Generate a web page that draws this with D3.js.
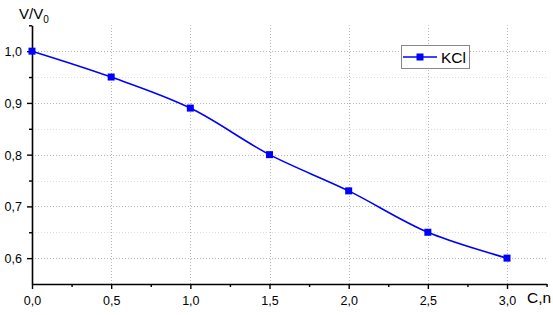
<!DOCTYPE html>
<html><head><meta charset="utf-8">
<script src="https://cdn.jsdelivr.net/npm/d3@7"></script>
<style>
body{margin:0;background:#fff;}
text{font-family:"Liberation Sans",Arial,sans-serif;fill:#000;}
</style></head>
<body><svg id="c" width="553" height="315"></svg>
<script>
const concentration = [0, 0.5, 1.0, 1.5, 2.0, 2.5, 3.0];
const ratioKCl = [1.0, 0.95, 0.89, 0.80, 0.73, 0.65, 0.60];
const seriesName = "KCl";
const xTicks = [0, 0.5, 1.0, 1.5, 2.0, 2.5, 3.0];
const yTicks = [0.6, 0.7, 0.8, 0.9, 1.0];
const xMinor = [0.25, 0.75, 1.25, 1.75, 2.25, 2.75, 3.25];
const yMinor = [0.65, 0.75, 0.85, 0.95, 1.05];

const svg = d3.select("#c");
const x = d3.scaleLinear().domain([0, 3.25]).range([32, 546.6]);
const y = d3.scaleLinear().domain([0.55, 1.05]).range([284, 25.3]);
const fmt = d => d.toFixed(1).replace(".", ",");

// minor horizontal grid
svg.append("g").selectAll("line").data(yMinor.filter(v => v < 1.05)).join("line")
  .attr("x1", x(0)).attr("x2", x(3.25)).attr("y1", d => Math.round(y(d)) + 0.5).attr("y2", d => Math.round(y(d)) + 0.5)
  .attr("stroke", "#dcdcdc").attr("stroke-width", 1).attr("stroke-dasharray", "1,2");
// major grid
svg.append("g").selectAll("line").data(yTicks).join("line")
  .attr("x1", x(0)).attr("x2", x(3.25)).attr("y1", d => Math.round(y(d)) + 0.5).attr("y2", d => Math.round(y(d)) + 0.5)
  .attr("stroke", "#b4b4b4").attr("stroke-width", 1).attr("stroke-dasharray", "1,2");
svg.append("g").selectAll("line").data(xTicks.filter(v => v > 0)).join("line")
  .attr("x1", d => Math.round(x(d)) + 0.5).attr("x2", d => Math.round(x(d)) + 0.5).attr("y1", y(0.55)).attr("y2", y(1.05))
  .attr("stroke", "#b4b4b4").attr("stroke-width", 1).attr("stroke-dasharray", "1,2");

// axes
const xAxis = d3.axisBottom(x).tickValues(xTicks).tickFormat(fmt).tickSize(5).tickSizeOuter(0).tickPadding(0);
const gx = svg.append("g").attr("transform", `translate(0,${y(0.55)})`).call(xAxis);
gx.selectAll(".tick text").style("font-size", "12.5px").attr("dy", null).attr("y", 21);
const xAxisMinor = d3.axisBottom(x).tickValues(xMinor).tickFormat("").tickSize(3).tickSizeOuter(0);
svg.append("g").attr("transform", `translate(0,${y(0.55)})`).call(xAxisMinor).select(".domain").remove();

const yAxis = d3.axisLeft(y).tickValues(yTicks).tickFormat(fmt).tickSize(5).tickSizeOuter(0);
const gy = svg.append("g").attr("transform", `translate(${x(0)},0)`).call(yAxis);
gy.selectAll(".tick text").style("font-size", "12.5px").attr("x", -10).attr("dy", null).attr("y", 4.5);
const yAxisMinor = d3.axisLeft(y).tickValues(yMinor).tickFormat("").tickSize(3).tickSizeOuter(0);
svg.append("g").attr("transform", `translate(${x(0)},0)`).call(yAxisMinor).select(".domain").remove();
svg.selectAll(".domain").attr("stroke", "#000").attr("stroke-width", 1.6);
svg.selectAll(".tick line").attr("stroke", "#000").attr("stroke-width", 1.4);

// axis titles
const yt = svg.append("text").attr("x", 19).attr("y", 19).style("font-size", "15px");
yt.append("tspan").text("V/V");
yt.append("tspan").text("0").style("font-size", "10px").attr("dy", 4);
svg.append("text").attr("x", 527).attr("y", 303).style("font-size", "15.5px").text("C,n");

// line
const pts = concentration.map((c, i) => [c, ratioKCl[i]]);
const line = d3.line().x(d => x(d[0])).y(d => y(d[1])).curve(d3.curveCatmullRom.alpha(0.5));
svg.append("path").datum(pts).attr("d", line).attr("fill", "none").attr("stroke", "#0000ff").attr("stroke-width", 1.6);
svg.append("g").selectAll("rect").data(pts).join("rect")
  .attr("x", d => x(d[0]) - 3.5).attr("y", d => y(d[1]) - 3.5).attr("width", 7).attr("height", 7).attr("fill", "#0000ff");

// legend
const lg = svg.append("g");
lg.append("rect").attr("x", 401.5).attr("y", 45.5).attr("width", 68).attr("height", 23).attr("fill", "#fff").attr("stroke", "#888").attr("stroke-width", 1);
lg.append("line").attr("x1", 403).attr("x2", 437).attr("y1", 57).attr("y2", 57).attr("stroke", "#0000ff").attr("stroke-width", 1.6);
lg.append("rect").attr("x", 416.5).attr("y", 53.5).attr("width", 7).attr("height", 7).attr("fill", "#0000ff");
lg.append("text").attr("x", 441).attr("y", 63).style("font-size", "15.5px").text(seriesName);
</script></body></html>
